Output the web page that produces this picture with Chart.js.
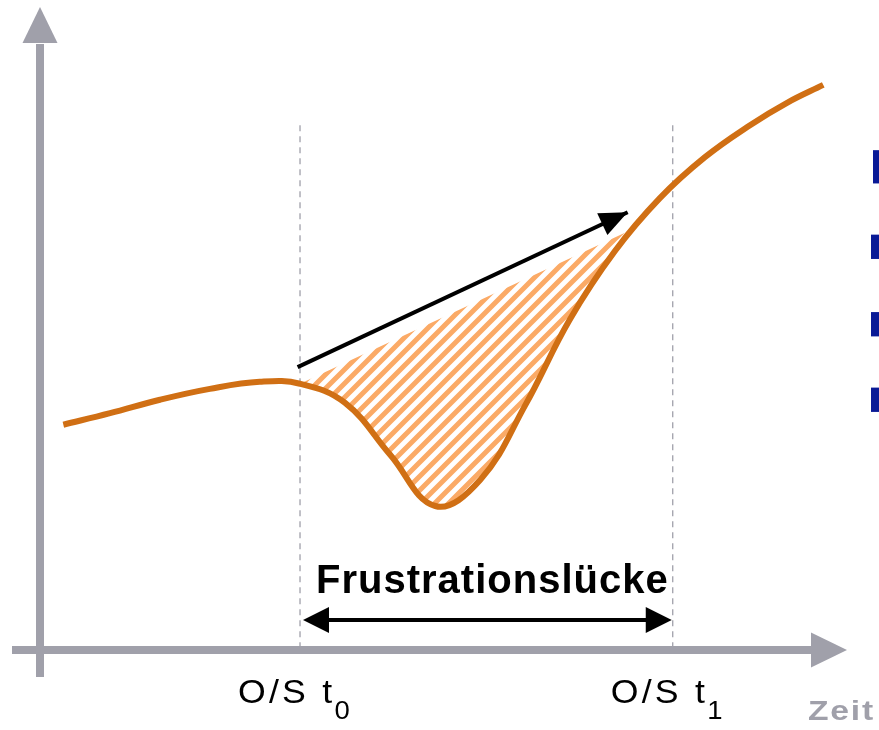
<!DOCTYPE html>
<html>
<head>
<meta charset="utf-8">
<script src="https://cdn.jsdelivr.net/npm/chart.js@4.4.0/dist/chart.umd.min.js"></script>
<style>
    body { margin: 0; background: #fff; }
    #wrap { width: 879px; height: 730px; position: relative; }
</style>
</head>
<body>
<div id="wrap"><canvas id="myChart"></canvas></div>
<script>
// Verlauf der Kurve (Zeit / Wert, 0..100)
var zeit = [2.9, 8.7, 14.9, 21.1, 27.3, 32.3, 37.9, 43.5, 49.1, 54.7, 60.3, 65.8, 71.4, 77.0, 82.6, 88.2, 92.8, 97.3];
var wert = [35.2, 37.0, 39.1, 40.8, 41.9, 41.6, 38.6, 30.5, 22.5, 26.6, 38.3, 51.6, 62.3, 70.6, 77.0, 82.0, 85.5, 88.3];

// Erwartung (schwarzer Pfeil)
var erwartungZeit = [32.0, 73.0];
var erwartungWert = [44.2, 68.4];

// obere Kante der schraffierten Lücke
var lueckeZeit = [32.3, 73.0];
var lueckeWert = [41.6, 65.4];

// Zeitpunkte O/S t0 und t1
var zeitpunkte = [32.3, 78.6];
var zeitpunktIndex = ['0', '1'];
var zeitpunktText = 'O/S t';
var achsenTitel = 'Zeit';
var lueckeTitel = 'Frustrationslücke';

// abgeschnittene Aufzählungszeichen rechts
var bulletWerte = [75.5, 63.0, 50.9, 39.1];
var bulletHoehe = [5.2, 3.8, 3.8, 3.8];

var grau = '#A0A0AA';
var orange = '#D06F14';

function toPoints(xs, ys) {
    return xs.map(function (x, i) { return { x: x, y: ys[i] }; });
}

// Schraffur-Muster
function makeHatch() {
    var t = document.createElement('canvas');
    t.width = 14; t.height = 14;
    var c = t.getContext('2d');
    c.strokeStyle = '#FBAA66';
    c.lineWidth = 5;
    c.beginPath();
    c.moveTo(-3, 17); c.lineTo(17, -3);
    c.moveTo(-5, 5); c.lineTo(5, -5);
    c.moveTo(9, 19); c.lineTo(19, 9);
    c.stroke();
    return t.getContext('2d').createPattern(t, 'repeat');
}

function arrowHead(ctx, x1, y1, x2, y2, len, wid) {
    var a = Math.atan2(y2 - y1, x2 - x1);
    ctx.beginPath();
    ctx.moveTo(x2, y2);
    ctx.lineTo(x2 - len * Math.cos(a) + wid / 2 * Math.sin(a), y2 - len * Math.sin(a) - wid / 2 * Math.cos(a));
    ctx.lineTo(x2 - len * Math.cos(a) - wid / 2 * Math.sin(a), y2 - len * Math.sin(a) + wid / 2 * Math.cos(a));
    ctx.closePath();
    ctx.fill();
}

// Text mit horizontaler Streckung
function wideText(ctx, txt, x, y, sx) {
    ctx.save();
    ctx.translate(x, y);
    ctx.scale(sx, 1);
    ctx.fillText(txt, 0, 0);
    ctx.restore();
    return ctx.measureText(txt).width * sx;
}

var skizze = {
    id: 'skizze',
    beforeDatasetsDraw: function (chart) {
        var ctx = chart.ctx;
        var xs = chart.scales.x, ys = chart.scales.y;
        var x0 = xs.getPixelForValue(0), y0 = ys.getPixelForValue(0);
        var area = chart.chartArea;
        ctx.save();
        // gestrichelte Linien
        ctx.strokeStyle = grau;
        ctx.lineWidth = 1.3;
        ctx.setLineDash([6, 5]);
        zeitpunkte.forEach(function (t) {
            var px = xs.getPixelForValue(t);
            ctx.beginPath();
            ctx.moveTo(px, ys.getPixelForValue(82));
            ctx.lineTo(px, y0);
            ctx.stroke();
        });
        ctx.setLineDash([]);
        // Achsen
        ctx.lineWidth = 8;
        ctx.beginPath();
        ctx.moveTo(x0, y0 + 27);
        ctx.lineTo(x0, area.top + 34);
        ctx.moveTo(x0 - 28, y0);
        ctx.lineTo(area.right - 34, y0);
        ctx.stroke();
        ctx.fillStyle = grau;
        arrowHead(ctx, x0, y0, x0, area.top - 3, 36, 35);
        arrowHead(ctx, x0, y0, area.right + 2, y0, 36, 35);
        ctx.restore();
    },
    afterDatasetsDraw: function (chart) {
        var ctx = chart.ctx;
        var xs = chart.scales.x, ys = chart.scales.y;
        var y0 = ys.getPixelForValue(0);
        ctx.save();
        // Pfeilspitze der Erwartung
        ctx.fillStyle = '#000';
        var n = erwartungZeit.length;
        arrowHead(ctx,
            xs.getPixelForValue(erwartungZeit[n - 2]), ys.getPixelForValue(erwartungWert[n - 2]),
            xs.getPixelForValue(erwartungZeit[n - 1]), ys.getPixelForValue(erwartungWert[n - 1]), 28, 24);

        // Doppelpfeil Frustrationslücke
        var ta = xs.getPixelForValue(zeitpunkte[0]) + 3;
        var tb = xs.getPixelForValue(zeitpunkte[1]) - 1;
        var yp = y0 - 30;
        ctx.strokeStyle = '#000';
        ctx.lineWidth = 4;
        ctx.beginPath();
        ctx.moveTo(ta + 20, yp);
        ctx.lineTo(tb - 20, yp);
        ctx.stroke();
        arrowHead(ctx, tb, yp, ta, yp, 26, 26);
        arrowHead(ctx, ta, yp, tb, yp, 26, 26);

        ctx.textBaseline = 'alphabetic';
        ctx.font = 'bold 40px "Liberation Sans", Arial, sans-serif';
        ctx.letterSpacing = '1px';
        ctx.textAlign = 'center';
        ctx.fillText(lueckeTitel, (ta + tb) / 2 + 5, y0 - 57);

        // Zeitpunkt-Beschriftungen
        ctx.textAlign = 'left';
        zeitpunkte.forEach(function (t, i) {
            var left = xs.getPixelForValue(t) - 62;
            ctx.font = '33px "Liberation Sans", Arial, sans-serif';
            ctx.letterSpacing = '3px';
            var w1 = wideText(ctx, zeitpunktText, left, y0 + 53, 1.08);
            ctx.font = '25px "Liberation Sans", Arial, sans-serif';
            ctx.letterSpacing = '0px';
            wideText(ctx, zeitpunktIndex[i], left + w1 - 1, y0 + 69, 1.1);
        });

        // Achsentitel
        ctx.fillStyle = grau;
        ctx.font = 'bold 28px "Liberation Sans", Arial, sans-serif';
        ctx.letterSpacing = '1.5px';
        wideText(ctx, achsenTitel, 808, y0 + 70, 1.2);

        // Aufzählungszeichen
        ctx.fillStyle = '#0A1A96';
        bulletWerte.forEach(function (v, i) {
            var top = ys.getPixelForValue(v + bulletHoehe[i] / 2);
            var bot = ys.getPixelForValue(v - bulletHoehe[i] / 2);
            var w = i === 0 ? 6 : 8;
            ctx.fillRect(chart.width - w, top, w, bot - top);
        });
        ctx.restore();
    }
};

var ctx = document.getElementById('myChart');
var myChart = new Chart(ctx, {
    type: 'line',
    data: {
        datasets: [{
            label: 'Verlauf',
            data: toPoints(zeit, wert),
            borderColor: orange,
            borderWidth: 6,
            pointRadius: 0,
            tension: 0.4,
            fill: false,
            order: 1
        }, {
            label: 'Lücke',
            data: toPoints(lueckeZeit, lueckeWert),
            borderColor: 'rgba(0,0,0,0)',
            borderWidth: 0,
            pointRadius: 0,
            backgroundColor: makeHatch(),
            fill: { target: 0 },
            order: 3
        }, {
            label: 'Erwartung',
            data: toPoints(erwartungZeit, erwartungWert),
            borderColor: '#000',
            borderWidth: 4,
            pointRadius: 0,
            fill: false,
            order: 0
        }]
    },
    options: {
        responsive: true,
        maintainAspectRatio: false,
        animation: false,
        layout: { padding: { left: 40, right: 34, top: 10, bottom: 80 } },
        scales: {
            x: { type: 'linear', min: 0, max: 100, display: false },
            y: { type: 'linear', min: 0, max: 100, display: false }
        },
        plugins: {
            legend: { display: false },
            tooltip: { enabled: false }
        }
    },
    plugins: [skizze]
});
</script>
</body>
</html>
